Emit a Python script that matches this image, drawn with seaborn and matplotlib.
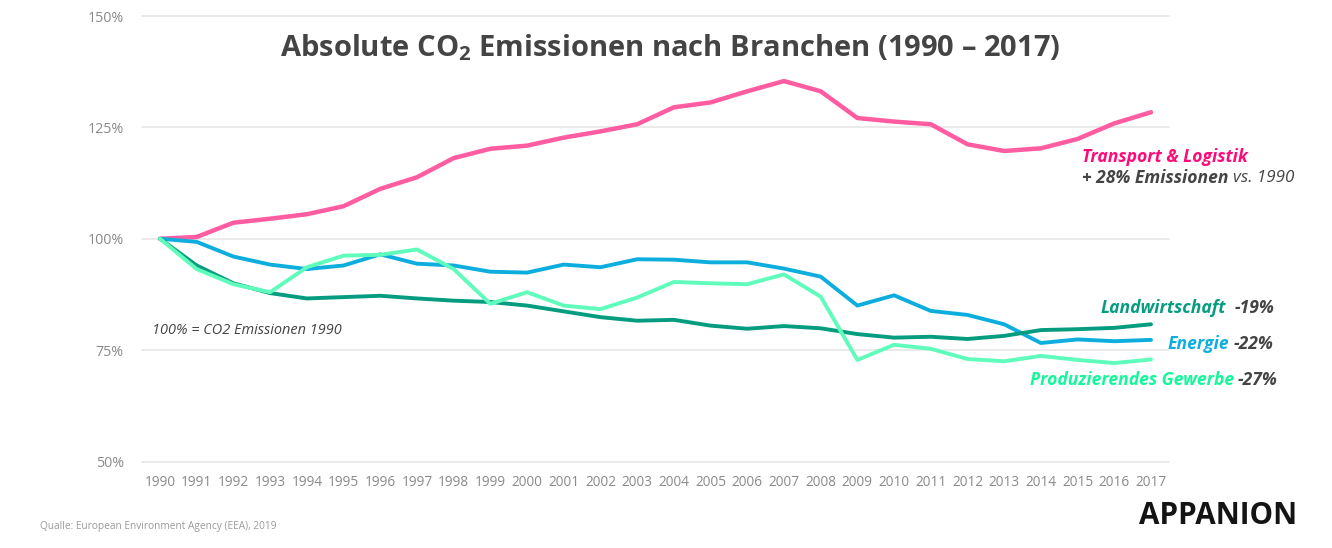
# -*- coding: utf-8 -*-
import pandas as pd
import numpy as np
import matplotlib
matplotlib.use('Agg')
import matplotlib.pyplot as plt
import seaborn as sns

W, H = 1332, 548

years = list(range(1990, 2018))
transport = [100, 100.4, 103.6, 104.5, 105.5, 107.3, 111.2, 113.8, 118.1, 120.2, 120.9, 122.7, 124.1, 125.7,
             129.5, 130.6, 133.1, 135.4, 133.1, 127.1, 126.3, 125.7, 121.2, 119.7, 120.3, 122.4, 125.9, 128.4]
energie = [100, 99.3, 96, 94.2, 93.2, 94, 96.5, 94.4, 94, 92.6, 92.4, 94.2, 93.6, 95.4,
           95.3, 94.7, 94.7, 93.3, 91.5, 85, 87.3, 83.8, 82.9, 80.8, 76.6, 77.4, 77, 77.3]
landwirtschaft = [100, 94, 90, 87.8, 86.6, 86.9, 87.2, 86.6, 86.1, 85.8, 85, 83.7, 82.4, 81.6,
                  81.8, 80.5, 79.8, 80.4, 79.9, 78.6, 77.8, 78, 77.5, 78.2, 79.5, 79.7, 80, 80.8]
gewerbe = [100, 93.2, 89.8, 88, 93.6, 96.2, 96.4, 97.6, 93.2, 85.4, 88, 85, 84.2, 86.8,
           90.3, 90, 89.8, 92, 87, 72.8, 76.2, 75.3, 73, 72.5, 73.7, 72.8, 72.1, 72.9]
y_ticks = [50, 75, 100, 125, 150]

colors = {'Transport': '#ff5ca1', 'Energie': '#0daede', 'Landwirtschaft': '#069c80', 'Gewerbe': '#5ffcbb'}
DARK = '#444444'
GREY = '#8a8a8a'

sns.set_theme(style='white')
plt.rcParams['font.family'] = ['Open Sans', 'DejaVu Sans']
plt.rcParams['mathtext.fontset'] = 'custom'
plt.rcParams['mathtext.rm'] = 'Open Sans:bold'

df = pd.DataFrame({'Jahr': years, 'Transport': transport, 'Energie': energie,
                   'Landwirtschaft': landwirtschaft, 'Gewerbe': gewerbe})
df = df.melt(id_vars='Jahr', var_name='Branche', value_name='Wert')

fig = plt.figure(figsize=(W / 100, H / 100), dpi=100)
ax = fig.add_axes([142 / W, 1 - 461.5 / H, (1169 - 142) / W, (461.5 - 16) / H])

sns.lineplot(data=df, x='Jahr', y='Wert', hue='Branche', palette=colors, linewidth=2.8,
             legend=False, ax=ax, solid_capstyle='round', solid_joinstyle='round', zorder=3)
ax.lines[0].set_linewidth(3.2)  # pink one is a bit heavier

ax.set_xlim(1990 - 18 / 36.7, 2017 + 18 / 36.7)
ax.set_ylim(50, 150)
ax.set_xticks(years)
ax.set_yticks(y_ticks)
ax.set_yticklabels([f'{t}%' for t in y_ticks])
ax.set_xlabel('')
ax.set_ylabel('')
ax.tick_params(axis='x', length=0, pad=10, labelsize=9.8, labelcolor=GREY)
ax.tick_params(axis='y', length=0, pad=13, labelsize=10.3, labelcolor=GREY)
ax.grid(axis='y', color='#e6e6e6', linewidth=1.2)
ax.grid(axis='x', visible=False)
ax.set_axisbelow(True)
for s in ax.spines.values():
    s.set_visible(False)
for gl in ax.get_ygridlines():
    gl.set_clip_on(False)


def txt(x, y, s, size, color, **kw):
    # x, y in picture pixels, size in pixels
    return fig.text(x / W, 1 - y / H, s, fontsize=size * 0.72, color=color, va='center', **kw)


txt(670, 47.5, 'Absolute CO$_2$ Emissionen nach Branchen (1990 – 2017)', 29.1, DARK,
    ha='center', fontweight='bold')
txt(152, 330, '100% = CO2 Emissionen 1990', 14.5, DARK, style='italic')

txt(1082, 157, 'Transport & Logistik', 17.5, '#ff0a78', style='italic', fontweight='bold')
txt(1082, 178, '+ 28% Emissionen', 17.5, DARK, style='italic', fontweight='bold')
txt(1233, 178, 'vs. 1990', 17, DARK, style='italic')

txt(1101, 308, 'Landwirtschaft', 17.5, '#069c80', style='italic', fontweight='bold')
txt(1235, 308, '-19%', 17.5, DARK, style='italic', fontweight='bold')
txt(1168, 344, 'Energie', 17.5, '#0daede', style='italic', fontweight='bold')
txt(1234, 344, '-22%', 17.5, DARK, style='italic', fontweight='bold')
txt(1030, 380, 'Produzierendes Gewerbe', 17.5, '#14f79a', style='italic', fontweight='bold')
txt(1238, 380, '-27%', 17.5, DARK, style='italic', fontweight='bold')

txt(40, 526, 'Qualle: European Environment Agency (EEA), 2019', 10.15, '#9a9a9a')
txt(1139, 516, 'APPANION', 29.6, '#141414', fontweight='bold')

fig.savefig('out.png', dpi=100, facecolor='white')
